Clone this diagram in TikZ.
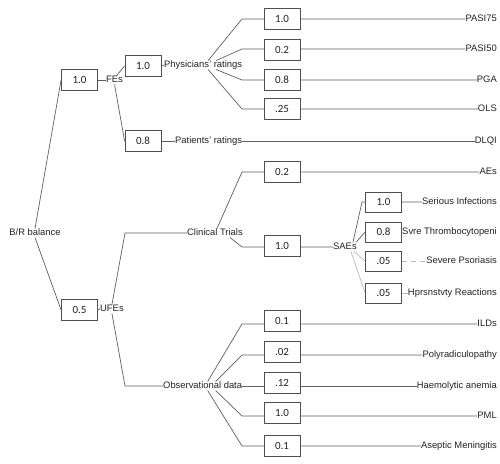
\documentclass[tikz,border=0pt]{standalone}
\usepackage{fontspec}
\setmainfont{Liberation Sans}
\newfontfamily\boxfont{Carlito}
\usetikzlibrary{backgrounds}
\definecolor{linec}{RGB}{95,95,95}
\definecolor{boxc}{RGB}{80,80,80}
\definecolor{lightc}{RGB}{185,185,185}
\definecolor{txtc}{RGB}{35,35,35}
\begin{document}
\begin{tikzpicture}[x=1pt,y=-1pt,
  lbl/.style={font=\fontsize{9.4}{10}\selectfont, text=txtc, inner sep=0pt, text height=6.8pt, text depth=1.8pt},
  rlbl/.style={lbl, anchor=east},
  wbox/.style={draw=boxc, fill=white, minimum width=36pt, minimum height=21pt, inner sep=0pt,
    font=\boxfont\fontsize{11}{11}\selectfont, text=txtc, line width=0.8pt},
  conn/.style={draw=linec, line width=0.7pt},
  lconn/.style={draw=lightc, line width=0.7pt}]
\useasboundingbox (0,0) rectangle (500,463);

% inner labels
\node[lbl] (br) at (35,233) {B/R balance};
\node[lbl,anchor=west] (fes) at (106,80) {FEs};
\node[lbl,anchor=west] (ufes) at (100,309) {UFEs};
\node[lbl,anchor=west] (phys) at (164,65) {Physicians' ratings};
\node[lbl,anchor=west] (pat) at (175,141) {Patients' ratings};
\node[lbl,anchor=west] (ct) at (187,233) {Clinical Trials};
\node[lbl,anchor=west] (od) at (163,386) {Observational data};
\node[lbl,anchor=west] (sae) at (333,247) {SAEs};

% leaf labels
\node[rlbl] (pasi75) at (497,19) {PASI75};
\node[rlbl] (pasi50) at (497,49) {PASI50};
\node[rlbl] (pga) at (497,80) {PGA};
\node[rlbl] (ols) at (497,109) {OLS};
\node[rlbl] (dlqi) at (497,141) {DLQI};
\node[rlbl] (aes) at (497,172) {AEs};
\node[rlbl] (si) at (497,202) {Serious Infections};
\node[rlbl] (st) at (497,232) {Svre Thrombocytopeni};
\node[rlbl] (sp) at (497,261) {Severe Psoriasis};
\node[rlbl] (hr) at (497,293) {Hprsnstvty Reactions};
\node[rlbl] (ilds) at (497,324) {ILDs};
\node[rlbl] (poly) at (497,355) {Polyradiculopathy};
\node[rlbl] (haem) at (497,386) {Haemolytic anemia};
\node[rlbl] (pml) at (497,416) {PML};
\node[rlbl] (asep) at (497,446) {Aseptic Meningitis};

% weight boxes
\node[wbox] (wfe) at (79.5,80) {1.0};
\node[wbox] (wufe) at (79.5,310) {0.5};
\node[wbox] (wphys) at (143,66) {1.0};
\node[wbox] (wpat) at (143,141) {0.8};
\node[wbox] (w75) at (282,19) {1.0};
\node[wbox] (w50) at (282,50) {0.2};
\node[wbox] (wpga) at (282,80) {0.8};
\node[wbox] (wols) at (282,109) {.25};
\node[wbox] (waes) at (282,172) {0.2};
\node[wbox] (wsae) at (282,246) {1.0};
\node[wbox, minimum height=20pt] (wsi) at (383.5,202) {1.0};
\node[wbox, minimum height=20pt] (wst) at (383.5,232) {0.8};
\node[wbox, minimum height=20pt] (wsp) at (383.5,261) {.05};
\node[wbox, minimum height=20pt] (whr) at (383.5,293) {.05};
\node[wbox] (wild) at (282,321) {0.1};
\node[wbox] (wpoly) at (282,352) {.02};
\node[wbox] (whaem) at (282,383) {.12};
\node[wbox] (wpml) at (282,413) {1.0};
\node[wbox] (wasep) at (282,446) {0.1};

% elbow points
\coordinate (e75) at (242,19);
\coordinate (e50) at (242,49);
\coordinate (epga) at (242,80);
\coordinate (eols) at (242,109);
\coordinate (ect) at (125,233);
\coordinate (eod) at (125,386);
\coordinate (eaes) at (242,172);
\coordinate (esae) at (242,247);
\coordinate (esi) at (362,202);
\coordinate (eild) at (242,324);
\coordinate (epoly) at (242,355);
\coordinate (epml) at (242,416);
\coordinate (easep) at (242,446);

\begin{scope}[on background layer]
\fill[white] (0,0) rectangle (500,463);
\draw[conn] (br.north) -- (wfe.west);
\draw[conn] (br.south) -- (wufe.west);
\draw[conn] (wfe.east) -- (fes.west);
\draw[conn] (wufe.east) -- (ufes.west);
\draw[conn] ([xshift=2pt]fes.north) -- (wphys.west);
\draw[conn] (fes.south) -- (wpat.west);
\draw[conn] (wphys.east) -- (phys.west);
\draw[conn] (wpat.east) -- (pat.west);
\draw[conn] (pat.east) -- (dlqi.west);
\draw[conn] ([xshift=5pt]phys.north) -- (e75) -- (pasi75.west);
\draw[conn] ([xshift=13pt]phys.north) -- (e50) -- (pasi50.west);
\draw[conn] ([xshift=13pt]phys.south) -- (epga) -- (pga.west);
\draw[conn] ([xshift=5pt]phys.south) -- (eols) -- (ols.west);
\draw[conn] (ufes.north) -- (ect) -- (ct.west);
\draw[conn] (ufes.south) -- (eod) -- (od.west);
\draw[conn] ([xshift=2pt]ct.north) -- (eaes) -- (aes.west);
\draw[conn] ([xshift=15pt]ct.south) -- (esae) -- (sae.west);
\draw[conn] ([xshift=-4pt]sae.north east) -- (esi) -- (si.west);
\draw[conn] ([xshift=-1pt]sae.north east) -- (wst.west) -- (st.west);
\draw[lconn] ([xshift=-3pt]sae.south east) -- (wsp.west);
\draw[lconn, dash pattern=on 5pt off 4pt] (wsp.east) -- (sp.west);
\draw[lconn] ([xshift=-6pt]sae.south east) -- (whr.west);
\draw[lconn] (whr.east) -- (hr.west);
\draw[conn] ([xshift=5pt]od.north) -- (eild) -- (ilds.west);
\draw[conn] ([xshift=13pt]od.north) -- (epoly) -- (poly.west);
\draw[conn] (od.east) -- (haem.west);
\draw[conn] ([xshift=13pt]od.south) -- (epml) -- (pml.west);
\draw[conn] ([xshift=5pt]od.south) -- (easep) -- (asep.west);
\end{scope}
\end{tikzpicture}
\end{document}
